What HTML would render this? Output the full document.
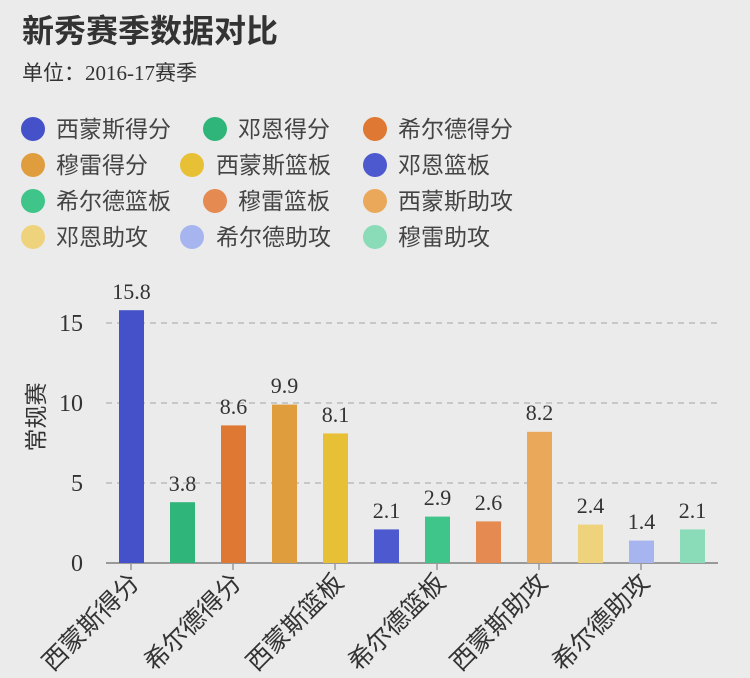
<!DOCTYPE html>
<html><head><meta charset="utf-8"><style>
body{margin:0;background:#ebebeb;}
svg{display:block;font-family:"Liberation Sans","Noto Sans CJK SC",sans-serif;}
.n{font-family:"Liberation Serif","Noto Serif CJK SC",serif;}
</style></head><body>
<svg width="750" height="678" viewBox="0 0 750 678">
<rect width="750" height="678" fill="#ebebeb"/>
<text x="22" y="42" font-size="32" font-weight="bold" fill="#333">新秀赛季数据对比</text>
<text x="22" y="80" font-size="21" fill="#333">单位：<tspan class="n">2016-17</tspan>赛季</text>
<g font-size="23" fill="#444">
<circle cx="33" cy="129" r="12" fill="#4451c9"/><text x="56" y="137">西蒙斯得分</text>
<circle cx="215" cy="129" r="12" fill="#2fb57a"/><text x="238" y="137">邓恩得分</text>
<circle cx="375" cy="129" r="12" fill="#de7832"/><text x="398" y="137">希尔德得分</text>
<circle cx="33" cy="165" r="12" fill="#e09d3e"/><text x="56" y="173">穆雷得分</text>
<circle cx="192" cy="165" r="12" fill="#e8c035"/><text x="216" y="173">西蒙斯篮板</text>
<circle cx="375" cy="165" r="12" fill="#4d59cf"/><text x="398" y="173">邓恩篮板</text>
<circle cx="33" cy="201" r="12" fill="#3fc48a"/><text x="56" y="209">希尔德篮板</text>
<circle cx="215" cy="201" r="12" fill="#e58a50"/><text x="238" y="209">穆雷篮板</text>
<circle cx="375" cy="201" r="12" fill="#eaa95a"/><text x="398" y="209">西蒙斯助攻</text>
<circle cx="33" cy="237" r="12" fill="#efd37c"/><text x="56" y="245">邓恩助攻</text>
<circle cx="192" cy="237" r="12" fill="#a6b4ef"/><text x="216" y="245">希尔德助攻</text>
<circle cx="375" cy="237" r="12" fill="#8adbb8"/><text x="398" y="245">穆雷助攻</text>
</g>
<g stroke="#bbb" stroke-width="1.5" stroke-dasharray="6,5">
<line x1="106" y1="323" x2="718" y2="323"/><line x1="106" y1="403" x2="718" y2="403"/><line x1="106" y1="483" x2="718" y2="483"/>
</g>
<g class="n" font-size="24" fill="#333" text-anchor="end">
<text x="83" y="331">15</text><text x="83" y="411">10</text><text x="83" y="491">5</text><text x="83" y="571">0</text>
</g>
<text transform="translate(44,417) rotate(-90)" font-size="23" fill="#333" text-anchor="middle">常规赛</text>
<line x1="106" y1="563" x2="718" y2="563" stroke="#999" stroke-width="2"/>
<g stroke="#999" stroke-width="1.5">
<line x1="131" y1="563" x2="131" y2="570"/><line x1="233" y1="563" x2="233" y2="570"/><line x1="335" y1="563" x2="335" y2="570"/><line x1="437" y1="563" x2="437" y2="570"/><line x1="539" y1="563" x2="539" y2="570"/><line x1="641" y1="563" x2="641" y2="570"/>
</g>
<g font-size="25" fill="#333" text-anchor="end">
<text transform="translate(141,584) rotate(-45)">西蒙斯得分</text>
<text transform="translate(243,584) rotate(-45)">希尔德得分</text>
<text transform="translate(345,584) rotate(-45)">西蒙斯篮板</text>
<text transform="translate(447,584) rotate(-45)">希尔德篮板</text>
<text transform="translate(549,584) rotate(-45)">西蒙斯助攻</text>
<text transform="translate(651,584) rotate(-45)">希尔德助攻</text>
</g>
<g>
<rect x="119" y="310.2" width="25" height="252.8" fill="#4451c9"/>
<rect x="170" y="502.2" width="25" height="60.8" fill="#2fb57a"/>
<rect x="221" y="425.4" width="25" height="137.6" fill="#de7832"/>
<rect x="272" y="404.6" width="25" height="158.4" fill="#e09d3e"/>
<rect x="323" y="433.4" width="25" height="129.6" fill="#e8c035"/>
<rect x="374" y="529.4" width="25" height="33.6" fill="#4d59cf"/>
<rect x="425" y="516.6" width="25" height="46.4" fill="#3fc48a"/>
<rect x="476" y="521.4" width="25" height="41.6" fill="#e58a50"/>
<rect x="527" y="431.8" width="25" height="131.2" fill="#eaa95a"/>
<rect x="578" y="524.6" width="25" height="38.4" fill="#efd37c"/>
<rect x="629" y="540.6" width="25" height="22.4" fill="#a6b4ef"/>
<rect x="680" y="529.4" width="25" height="33.6" fill="#8adbb8"/>
</g>
<g class="n" font-size="22" fill="#333" text-anchor="middle">
<text x="131.5" y="299">15.8</text><text x="182.5" y="491">3.8</text><text x="233.5" y="414">8.6</text><text x="284.5" y="393">9.9</text><text x="335.5" y="422">8.1</text><text x="386.5" y="518">2.1</text><text x="437.5" y="505">2.9</text><text x="488.5" y="510">2.6</text><text x="539.5" y="420">8.2</text><text x="590.5" y="513">2.4</text><text x="641.5" y="529">1.4</text><text x="692.5" y="518">2.1</text>
</g>
</svg>
</body></html>
